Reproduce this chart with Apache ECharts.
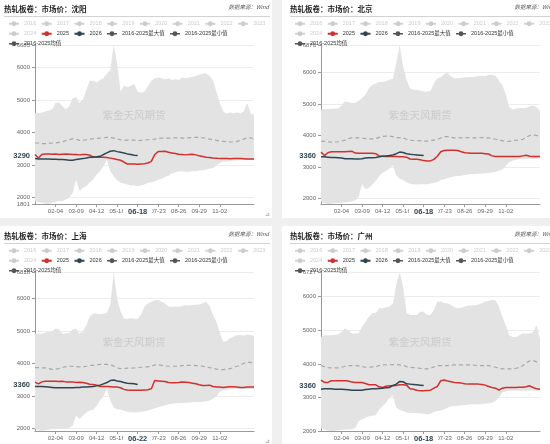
<!DOCTYPE html>
<html>
<head>
<meta charset="utf-8">
<script src="https://cdn.jsdelivr.net/npm/echarts@6/dist/echarts.min.js"></script>
<style>
html, body { margin: 0; padding: 0; width: 550px; height: 444px; overflow: hidden; background: #f0f0f0; position: relative; }
.panel { position: absolute; width: 276px; height: 219px; background: #fff; }
.chart { position: absolute; left: 0; top: 0; width: 276px; height: 219px; }
.head { position: absolute; left: 8px; width: 266px; top: 4px; height: 13px; border-bottom: 1px solid #d2d2d2; z-index: 2; }
.head .t { position: absolute; left: 0; top: 0; line-height: 13px; font: bold 7.5px "Noto Sans CJK SC", sans-serif; color: #222; }
.head .s { position: absolute; right: 1px; top: 0; line-height: 13px; font: italic 5.5px "Noto Sans CJK SC", sans-serif; color: #555; }
.corner { position: absolute; right: 2px; bottom: 1px; font: 6px "DejaVu Sans", sans-serif; color: #999; z-index: 2; }
</style>
</head>
<body>
<script>
// 横轴日期（抽样）与刻度
const dates = [
    '01-01', '01-07', '01-12', '01-18', '01-24', '01-29',
    '02-04', '02-10', '02-15', '02-21', '02-26', '03-04',
    '03-09', '03-15', '03-20', '03-26', '04-01', '04-06',
    '04-12', '04-18', '04-23', '04-29', '05-05', '05-10',
    '05-16', '05-21', '05-27', '06-02', '06-07', '06-13',
    '06-18', '06-24', '06-30', '07-06', '07-12', '07-17',
    '07-23', '07-29', '08-03', '08-09', '08-15', '08-20',
    '08-26', '09-01', '09-06', '09-12', '09-18', '09-23',
    '09-29', '10-05', '10-10', '10-16', '10-22', '10-27',
    '11-02', '11-08', '11-13', '11-19', '11-25', '11-30',
    '12-06', '12-12', '12-17', '12-23', '12-31'
];
const tickDates = ['02-04', '03-09', '04-12', '05-16', '06-18', '07-23', '08-26', '09-29', '11-02'];
const fadedYears = ['2016', '2017', '2018', '2019', '2020', '2021', '2022', '2023', '2024'];

// 沈阳
const syMax = [4590,4590,4610,4640,4670,4700,4900,4920,4800,4710,4800,5050,5080,4900,5000,5300,5590,5590,5530,5610,5660,5800,5920,6685,6120,5260,5430,5390,5430,5490,5260,5220,5260,5410,5590,5660,5690,5660,5630,5660,5610,5630,5610,5690,5660,5690,5710,5730,5770,5800,5820,5730,5610,5260,4900,4640,4570,4610,4590,4610,4590,4640,4900,4590,4540];
const syMin = [1890,1860,1840,1820,1801,1840,1860,1890,1890,1940,1990,2140,2550,2200,2300,2350,2470,2550,2700,2810,2960,3160,2810,2650,2530,2450,2430,2400,2370,2370,2350,2370,2400,2450,2470,2500,2550,2570,2630,2670,2740,2780,2810,2810,2790,2790,2810,2810,2830,2840,2860,2880,2910,2980,3060,3110,3100,3120,3140,3140,3150,3150,3150,3150,3150];
const syMean = [3675,3675,3655,3655,3665,3675,3675,3695,3715,3745,3775,3805,3795,3755,3755,3775,3795,3805,3815,3825,3835,3845,3845,3825,3795,3775,3755,3765,3775,3765,3745,3755,3765,3775,3775,3795,3815,3825,3825,3825,3825,3835,3835,3825,3825,3835,3845,3845,3845,3835,3815,3795,3775,3755,3735,3725,3715,3705,3705,3725,3755,3795,3835,3835,3795];
const sy2025 = [3320,3215,3320,3340,3340,3330,3340,3320,3330,3340,3330,3320,3320,3310,3320,3320,3300,3250,3240,3240,3240,3230,3210,3190,3165,3145,3090,3030,3030,3030,3020,3030,3040,3060,3110,3320,3410,3410,3420,3390,3370,3350,3330,3320,3310,3320,3330,3310,3280,3260,3240,3230,3215,3210,3195,3195,3195,3190,3195,3200,3195,3190,3180,3180,3185];
const sy2026 = [3195,3185,3185,3180,3180,3175,3175,3170,3165,3160,3145,3145,3165,3185,3195,3215,3240,3240,3250,3265,3320,3370,3420,3440,3410,3390,3370,3340,3320,3300,3290];

// 北京
const bjMax = [4820,4840,4830,4850,4850,4860,4950,5080,5060,5030,5030,5100,5190,5300,5500,5610,5650,5700,5700,5720,5770,5800,6300,6876,6200,5770,5500,5450,5450,5420,5400,5400,5420,5650,5820,5850,5950,5990,5880,5820,5820,5830,5850,5850,5860,5870,5890,5900,5890,5920,5930,5900,5750,5600,5300,4900,4820,4860,4870,4870,4880,4920,4950,4900,4770];
const bjMin = [1900,1840,1820,1830,1840,1850,1860,1870,1880,1900,1930,2050,2450,2280,2340,2440,2560,2700,2810,2870,2950,3050,2730,2620,2580,2500,2460,2450,2440,2450,2450,2450,2470,2490,2520,2580,2610,2650,2670,2700,2710,2720,2740,2760,2770,2770,2780,2790,2800,2810,2820,2840,2880,2920,3030,3150,3200,3230,3240,3240,3250,3250,3250,3260,3260];
const bjMean = [3820,3810,3800,3790,3790,3800,3820,3850,3900,3925,3925,3920,3920,3900,3890,3890,3900,3940,3970,3980,3980,3960,3930,3925,3920,3880,3850,3840,3840,3830,3820,3820,3830,3850,3870,3920,3960,3960,3940,3925,3925,3925,3925,3930,3925,3920,3925,3930,3925,3920,3900,3880,3850,3830,3820,3810,3830,3850,3850,3880,3940,4000,4010,4000,3960];
const bj2025 = [3470,3360,3450,3480,3480,3480,3480,3480,3490,3500,3440,3430,3430,3430,3430,3430,3420,3350,3340,3330,3330,3330,3330,3320,3320,3310,3250,3240,3240,3230,3200,3190,3190,3240,3340,3480,3520,3530,3530,3530,3520,3480,3450,3440,3430,3430,3430,3430,3420,3410,3350,3330,3330,3330,3330,3330,3330,3330,3330,3350,3370,3340,3330,3330,3330];
const bj2026 = [3320,3320,3310,3300,3300,3290,3280,3260,3260,3260,3250,3250,3260,3280,3290,3290,3300,3320,3340,3350,3360,3380,3420,3470,3460,3420,3400,3390,3380,3370,3360];

// 上海
const shMax = [4920,4920,4930,4950,4980,5000,5080,5060,4920,4930,4950,5050,5080,4920,5000,5180,5450,5540,5540,5520,5540,5560,5800,6818,6000,5600,5380,5380,5400,5380,5380,5500,5760,5850,5900,5950,5960,5900,5850,5760,5740,5760,5740,5780,5800,5790,5800,5810,5820,5860,5900,5780,5500,5300,4950,4670,4700,4780,4830,4870,4880,4860,4900,4880,4860];
const shMin = [2000,1950,1930,1950,1970,1990,2000,2000,2000,2000,2020,2100,2400,2300,2400,2500,2560,2580,2700,2870,3000,3230,2870,2650,2600,2580,2550,2520,2510,2510,2510,2520,2540,2560,2590,2630,2660,2690,2720,2750,2770,2780,2780,2790,2800,2800,2810,2820,2820,2830,2840,2870,2920,3000,3130,3180,3200,3210,3220,3220,3220,3220,3220,3220,3220];
const shMean = [3880,3880,3870,3870,3850,3825,3830,3850,3880,3910,3920,3920,3910,3900,3900,3920,3950,3950,3960,3980,3980,3980,3960,3930,3870,3845,3850,3860,3865,3870,3880,3890,3900,3900,3930,3960,3970,3950,3930,3920,3920,3920,3930,3940,3950,3950,3950,3940,3930,3920,3900,3880,3860,3830,3815,3815,3830,3845,3880,3920,3950,4010,4050,4040,4000];
const sh2025 = [3435,3380,3440,3460,3460,3460,3460,3450,3460,3440,3435,3440,3420,3430,3420,3400,3370,3360,3340,3300,3300,3300,3290,3280,3280,3260,3210,3190,3180,3180,3180,3180,3190,3200,3230,3480,3470,3460,3450,3420,3410,3410,3420,3435,3430,3420,3400,3380,3350,3330,3330,3340,3300,3280,3280,3270,3280,3290,3290,3280,3270,3270,3280,3280,3280];
const sh2026 = [3300,3300,3300,3290,3280,3270,3260,3260,3260,3260,3260,3260,3270,3270,3280,3280,3290,3300,3320,3340,3380,3420,3480,3500,3470,3450,3420,3400,3390,3380,3360];

// 广州
const gzMax = [4800,4850,4850,4850,4860,4870,4950,5050,5000,4900,4900,4920,5100,5250,5400,5500,5520,5650,5650,5680,5700,5800,6350,6727,6300,5500,5450,5450,5450,5550,5550,5450,5450,5600,5850,5850,5800,5800,5750,5680,5650,5660,5700,5730,5730,5740,5760,5800,5850,5870,5900,5880,5700,5400,5150,4850,4800,4800,4850,4900,4900,4900,4950,5150,4750];
const gzMin = [2100,2050,2020,2009,2020,2030,2040,2050,2050,2060,2100,2300,2350,2400,2450,2460,2480,2650,2750,2850,3000,3070,2700,2630,2600,2560,2550,2540,2540,2530,2520,2500,2520,2570,2600,2620,2650,2700,2740,2750,2760,2770,2780,2790,2800,2800,2800,2810,2820,2830,2850,2900,3000,3150,3180,3200,3200,3200,3200,3200,3200,3210,3210,3210,3210];
const gzMean = [3950,3920,3890,3880,3880,3880,3900,3930,3950,3950,3950,3940,3920,3900,3900,3910,3920,3950,3970,3975,3975,3980,3980,3970,3960,3920,3900,3890,3880,3870,3850,3850,3870,3910,3950,3950,3950,3950,3960,3970,3970,3970,3970,3970,3970,3960,3950,3950,3950,3950,3930,3900,3870,3850,3850,3850,3850,3870,3900,3950,4030,4090,4100,4060,4030];
const gz2025 = [3520,3450,3450,3500,3500,3500,3500,3500,3490,3460,3450,3450,3450,3420,3380,3380,3380,3320,3300,3340,3350,3350,3360,3380,3380,3370,3260,3250,3220,3200,3200,3210,3220,3280,3330,3500,3520,3490,3470,3450,3440,3430,3410,3400,3400,3400,3400,3390,3370,3330,3300,3280,3220,3280,3300,3300,3300,3300,3310,3310,3320,3350,3300,3260,3250];
const gz2026 = [3250,3260,3260,3260,3250,3250,3250,3240,3230,3220,3220,3220,3220,3240,3250,3260,3260,3270,3280,3290,3300,3360,3400,3480,3470,3410,3400,3390,3380,3370,3360];

const panels = [
    {title: '热轧板卷：市场价：沈阳', left: -4, top: -1, max: syMax, min: syMin, mean: syMean, y2025: sy2025, y2026: sy2026, lastDate: '06-18', price: 3290},
    {title: '热轧板卷：市场价：北京', left: 282, top: -1, max: bjMax, min: bjMin, mean: bjMean, y2025: bj2025, y2026: bj2026, lastDate: '06-18', price: 3360},
    {title: '热轧板卷：市场价：上海', left: -4, top: 226, max: shMax, min: shMin, mean: shMean, y2025: sh2025, y2026: sh2026, lastDate: '06-22', price: 3360},
    {title: '热轧板卷：市场价：广州', left: 282, top: 226, max: gzMax, min: gzMin, mean: gzMean, y2025: gz2025, y2026: gz2026, lastDate: '06-18', price: 3360}
];

const FONT = '"Liberation Sans", "Noto Sans CJK SC", sans-serif';
const RED = '#d0302e';
const NAVY = '#2f4554';
const BAND = '#e3e3e3';

const showTick = (index, value) => tickDates.indexOf(value) >= 0;

const pointerLabel = {
    show: true,
    fontSize: 7.5,
    fontWeight: 'bold',
    fontFamily: FONT,
    color: NAVY,
    backgroundColor: '#fff',
    padding: [1, 2],
    shadowBlur: 0,
    margin: 3
};

function makeOption(p) {
    const bandHeight = p.max.map((v, i) => v - p.min[i]);
    const lastIdx = p.y2026.length - 1;
    const darkIcon = {itemStyle: {color: '#555'}, lineStyle: {color: '#555', width: 1.5, type: 'solid', opacity: 1}};

    const series = fadedYears.map(y => ({
        name: y, type: 'line', data: [], symbol: 'circle', showSymbol: false, color: '#ccc'
    }));
    series.push(
        {
            name: '2016-2025最小值', type: 'line', data: p.min, stack: 'band',
            symbol: 'circle', showSymbol: false, color: '#555',
            lineStyle: {width: 0}, silent: true
        },
        {
            name: '2016-2025最大值', type: 'line', data: bandHeight, stack: 'band',
            symbol: 'circle', showSymbol: false, color: '#555',
            lineStyle: {width: 0}, areaStyle: {color: BAND, opacity: 1}, silent: true
        },
        {
            name: '2016-2025均值', type: 'line', data: p.mean,
            symbol: 'circle', showSymbol: false, color: '#555',
            lineStyle: {color: '#a8a8a8', width: 1.2, type: [4, 3]}
        },
        {
            name: '2025', type: 'line', data: p.y2025,
            symbol: 'circle', showSymbol: false, color: RED,
            lineStyle: {color: RED, width: 1.5}
        },
        {
            name: '2026', type: 'line', data: p.y2026,
            symbol: 'circle', showSymbol: false, color: NAVY,
            lineStyle: {color: NAVY, width: 1.5}
        }
    );

    return {
        animation: false,
        textStyle: {fontFamily: FONT},
        legend: {
            top: 22,
            left: 12,
            width: 258,
            padding: 0,
            itemWidth: 10,
            itemHeight: 6,
            itemGap: 4.5,
            inactiveColor: '#ccc',
            textStyle: {fontSize: 5.5, color: '#333', fontFamily: FONT},
            data: fadedYears.concat([
                '2025', '2026',
                Object.assign({name: '2016-2025最大值'}, darkIcon),
                Object.assign({name: '2016-2025最小值'}, darkIcon),
                Object.assign({name: '2016-2025均值'}, darkIcon)
            ]),
            selected: Object.fromEntries(fadedYears.map(y => [y, false]))
        },
        grid: {left: 39, right: 18, top: 46, bottom: 14, containLabel: false, outerBoundsMode: 'none'},
        xAxis: {
            type: 'category',
            data: dates,
            boundaryGap: false,
            axisLine: {lineStyle: {color: '#999'}},
            axisTick: {length: 3, interval: showTick, lineStyle: {color: '#999'}},
            axisLabel: {interval: showTick, fontSize: 6, color: '#666', margin: 4, fontFamily: FONT},
            splitLine: {show: false},
            axisPointer: {
                show: true, type: 'line', value: lastIdx, status: 'show', triggerTooltip: false,
                lineStyle: {opacity: 0},
                label: Object.assign({}, pointerLabel, {padding: [1, 5], formatter: () => p.lastDate})
            }
        },
        yAxis: {
            type: 'value',
            min: 'dataMin',
            max: 'dataMax',
            axisLine: {show: true, lineStyle: {color: '#999'}},
            axisTick: {show: true, length: 3, lineStyle: {color: '#999'}},
            axisLabel: {fontSize: 6, color: '#666', margin: 5, fontFamily: FONT, formatter: v => String(Math.round(v))},
            splitLine: {lineStyle: {color: '#ececec'}},
            axisPointer: {
                show: true, type: 'line', value: p.price, status: 'show', triggerTooltip: false,
                lineStyle: {opacity: 0},
                label: Object.assign({}, pointerLabel, {formatter: () => String(p.price)})
            }
        },
        graphic: [{
            type: 'text',
            left: 'center',
            top: 111,
            z: 5,
            silent: true,
            style: {text: '紫金天风期货', fontSize: 10.5, fill: '#cbcbcb', fontFamily: '"Noto Sans CJK SC", sans-serif'}
        }],
        series: series
    };
}

panels.forEach((p, i) => {
    const panel = document.createElement('div');
    panel.className = 'panel';
    panel.style.left = p.left + 'px';
    panel.style.top = p.top + 'px';
    panel.innerHTML =
        '<div class="chart" id="chart-' + i + '"></div>' +
        '<div class="head"><span class="t">' + p.title + '</span><span class="s">数据来源：Wind</span></div>' +
        '<div class="corner">⊿</div>';
    document.body.appendChild(panel);

    const myChart = echarts.init(document.getElementById('chart-' + i), null, {renderer: 'canvas'});
    myChart.setOption(makeOption(p));
});
</script>
</body>
</html>
